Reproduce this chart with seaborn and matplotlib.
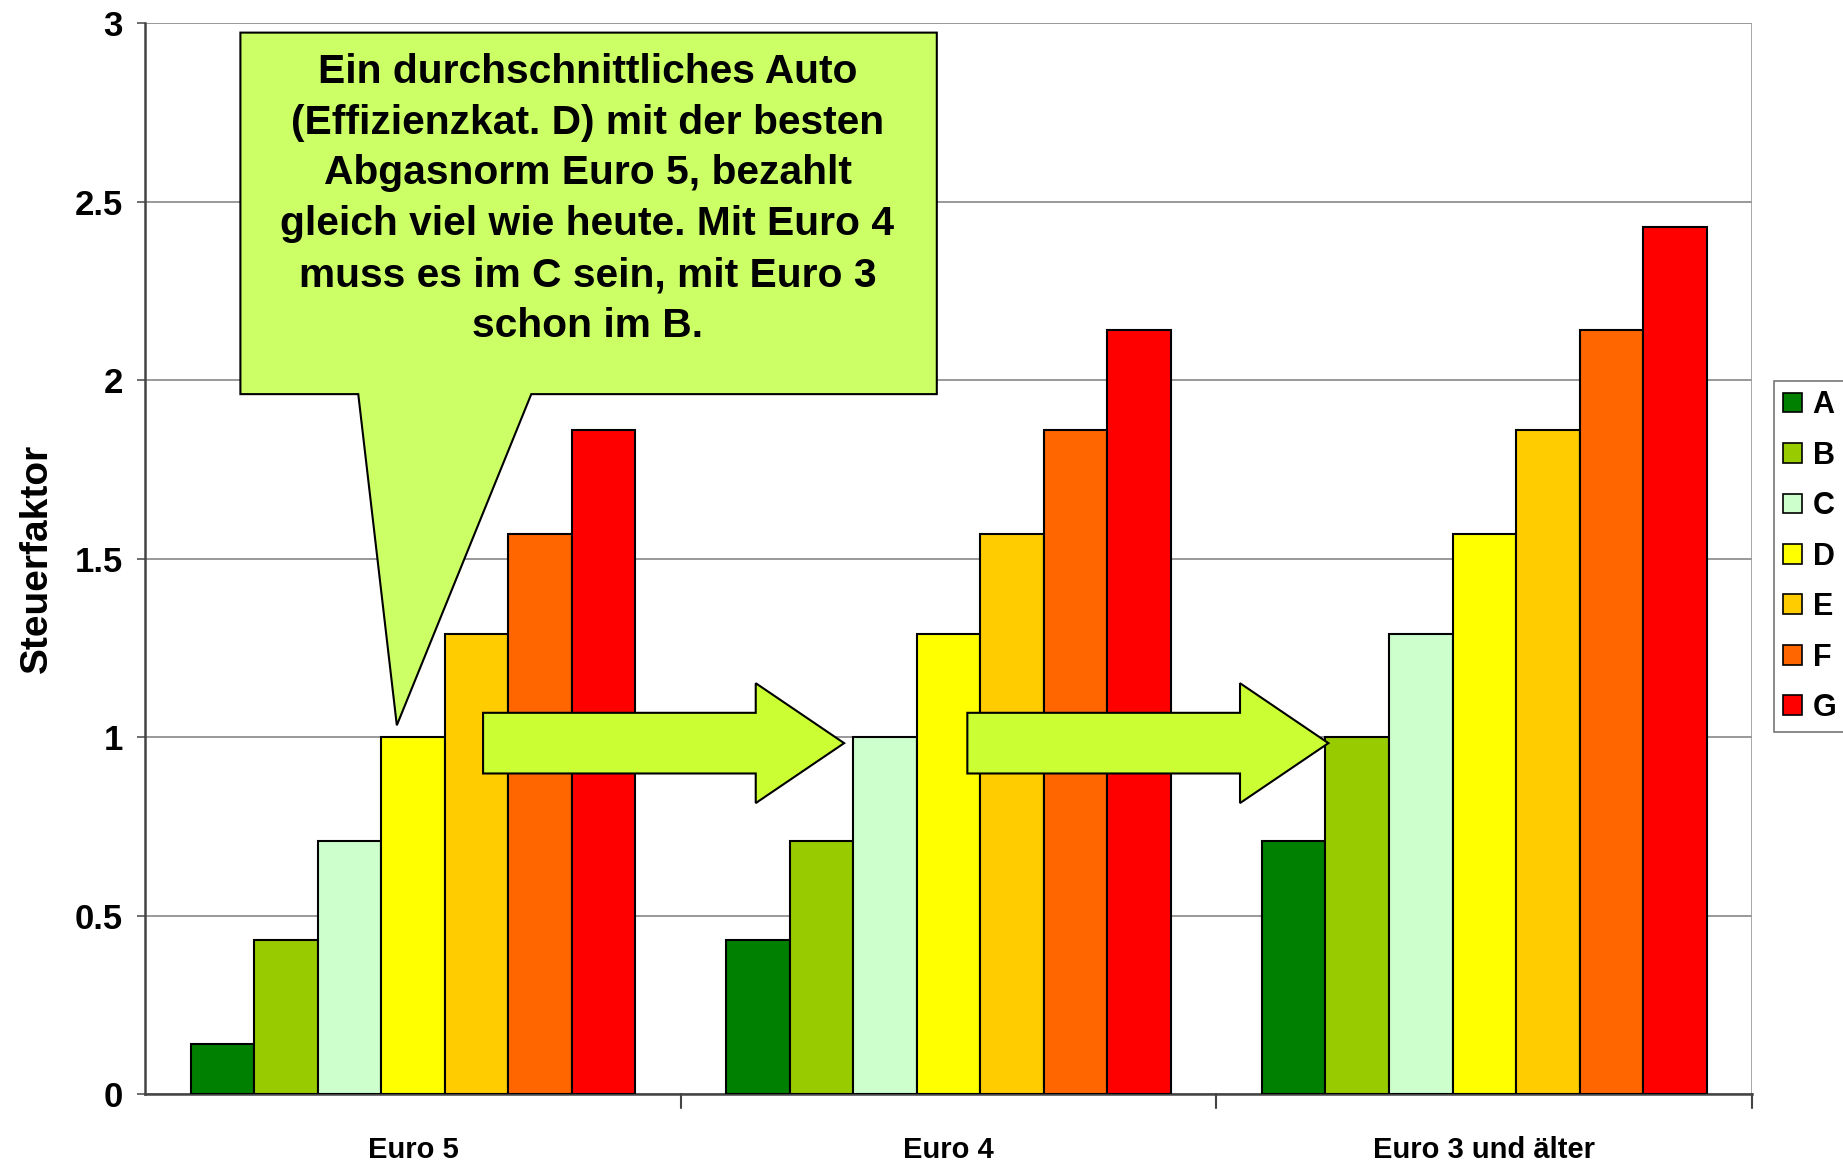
import pandas as pd
import numpy as np
import seaborn as sns
import matplotlib.pyplot as plt
from matplotlib.patches import Polygon, Patch

sns.set_theme(style="white")
plt.rcParams['font.family'] = ['Liberation Sans', 'DejaVu Sans']
plt.rcParams['text.color'] = 'black'
plt.rcParams['axes.labelcolor'] = 'black'
plt.rcParams['xtick.color'] = 'black'
plt.rcParams['ytick.color'] = 'black'

# --- Data ---
groups = ['Euro 5', 'Euro 4', 'Euro 3 und älter']
classes = ['A', 'B', 'C', 'D', 'E', 'F', 'G']
euro5 = [0.14, 0.43, 0.71, 1.00, 1.29, 1.57, 1.86]
euro4 = [0.43, 0.71, 1.00, 1.29, 1.57, 1.86, 2.14]
euro3 = [0.71, 1.00, 1.29, 1.57, 1.86, 2.14, 2.43]
colors = ['#008000', '#99CC00', '#CCFFCC', '#FFFF00', '#FFCC00', '#FF6600', '#FF0000']
y_ticks = [0, 0.5, 1, 1.5, 2, 2.5, 3]
y_ticklabels = ['0', '0.5', '1', '1.5', '2', '2.5', '3']
callout_text = ("Ein durchschnittliches Auto\n(Effizienzkat. D) mit der besten\n"
                "Abgasnorm Euro 5, bezahlt\ngleich viel wie heute. Mit Euro 4\n"
                "muss es im C sein, mit Euro 3\nschon im B.")

rows = []
for g, vals in zip(groups, [euro5, euro4, euro3]):
    for c, v in zip(classes, vals):
        rows.append({'Gruppe': g, 'Klasse': c, 'Steuerfaktor': v})
df = pd.DataFrame(rows)

fig = plt.figure(figsize=(18.43, 11.67), dpi=100)
ax = fig.add_axes([0.0787, 0.0626, 0.872, 0.9174])

sns.barplot(data=df, x='Gruppe', y='Steuerfaktor', hue='Klasse', hue_order=classes,
            palette=colors, width=0.83, edgecolor='black', linewidth=1.5,
            saturation=1, ax=ax, legend=False, zorder=3)

ax.set_xlim(-0.5, 2.5)
ax.set_ylim(0, 3)
ax.set_yticks(y_ticks)
ax.set_yticklabels(y_ticklabels, fontsize=25, fontweight='bold')
ax.set_xticks([0, 1, 2])
ax.set_xticklabels(groups, fontsize=21, fontweight='bold')
ax.tick_params(axis='x', length=0, pad=30)
ax.tick_params(axis='y', length=6, width=1.2, color='#555555', direction='out', left=True, pad=10)
ax.set_xlabel('')
ax.set_ylabel('Steuerfaktor', fontsize=28, fontweight='bold', labelpad=14)

# grid + frame
ax.yaxis.grid(True, color='#888888', linewidth=1.2, zorder=0)
ax.set_axisbelow(True)
for s in ['top', 'right']:
    ax.spines[s].set_visible(False)
ax.spines['left'].set_color('#444444')
ax.spines['left'].set_linewidth(1.8)
ax.spines['bottom'].set_color('#444444')
ax.spines['bottom'].set_linewidth(1.8)
ax.axvline(2.5, color='#999999', linewidth=1.2, zorder=1)
# group separator ticks
for xb in [0.5, 1.5, 2.5]:
    ax.plot([xb, xb], [0, -0.04], color='#444444', lw=1.5, clip_on=False)

# Callout box with pointer
box_l, box_r, box_b, box_t = -0.322, 0.978, 1.961, 2.974
ptr_l, ptr_r, ptr_tip = -0.102, 0.221, (-0.030, 1.033)
callout = Polygon([(box_l, box_t), (box_r, box_t), (box_r, box_b), (ptr_r, box_b),
                   ptr_tip, (ptr_l, box_b), (box_l, box_b)],
                  closed=True, facecolor='#CCFF66', edgecolor='black', lw=1.5, zorder=6)
ax.add_patch(callout)
ax.text(0.326, 2.508, callout_text, ha='center', va='center', fontsize=29.3,
        fontweight='bold', linespacing=1.43, zorder=7)

# Block arrows
def block_arrow(x0, x_head, x_tip, yc, shaft, head):
    pts = [(x0, yc + shaft), (x_head, yc + shaft), (x_head, yc + head), (x_tip, yc),
           (x_head, yc - head), (x_head, yc - shaft), (x0, yc - shaft)]
    ax.add_patch(Polygon(pts, closed=True, facecolor='#CCFF33', edgecolor='black',
                         lw=1.5, zorder=6))

block_arrow(0.131, 0.640, 0.805, 0.983, 0.085, 0.168)
block_arrow(1.035, 1.544, 1.709, 0.983, 0.085, 0.168)

# Legend
handles = [Patch(facecolor=c, edgecolor='black', linewidth=1.2, label=k)
           for c, k in zip(colors, classes)]
leg = fig.legend(handles=handles, loc='center left', bbox_to_anchor=(0.9625, 0.523),
                 frameon=True, fancybox=False, fontsize=22, handlelength=0.62,
                 handleheight=0.62, handletextpad=0.35, labelspacing=0.67,
                 borderpad=0.3, borderaxespad=0)
leg.get_frame().set_edgecolor('#555555')
leg.get_frame().set_linewidth(1.2)
for t in leg.get_texts():
    t.set_fontweight('bold')

fig.savefig('out.png', dpi=100)
